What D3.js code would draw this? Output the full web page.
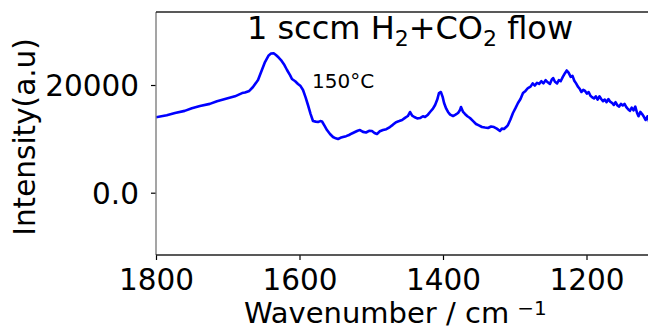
<!DOCTYPE html>
<html>
<head>
<meta charset="utf-8">
<script src="https://cdn.jsdelivr.net/npm/d3@7"></script>
<style>
  html, body { margin: 0; padding: 0; background: #fff; }
  svg { display: block; font-family: "DejaVu Sans", sans-serif; }
</style>
</head>
<body>
<svg id="chart" width="648" height="330"></svg>
<script>
// ---- data ----
const wavenumber = [
  1800, 1785, 1773.5, 1760, 1750, 1738.7, 1725, 1715, 1703.8, 1690, 1680, 1676, 1670, 1664.8,
  1657.8, 1648.1, 1643, 1639.7, 1636, 1632.8, 1629, 1625.8, 1621, 1617.4, 1613, 1610.5, 1606,
  1602.1, 1598.5, 1595.1, 1591.5, 1588.2, 1584.5, 1581.2, 1577.5, 1574.2, 1571, 1568.6, 1565,
  1561.7, 1557.5, 1553.3, 1549.5, 1546.3, 1543, 1539.4, 1535, 1531.0, 1527, 1522.7, 1519,
  1515.7, 1511.5, 1507.3, 1503,
  1499, 1495.5, 1492, 1488, 1483.6, 1479, 1474, 1470, 1465.5, 1461, 1457, 1453, 1449, 1446,
  1443, 1440, 1436, 1432, 1428, 1425, 1421, 1418, 1414, 1411, 1408, 1405.6, 1403, 1400.5,
  1398.5, 1395.5, 1393, 1390, 1386, 1382.5, 1379, 1376.5, 1374.9, 1372, 1369.4, 1366, 1362.4,
  1358, 1354, 1350, 1345.7, 1341.5, 1337.3, 1333, 1329, 1325, 1320.6, 1318, 1315, 1312,
  1309.5, 1306,
  1302.5, 1299, 1295.5, 1292, 1288.5, 1285, 1281.6, 1278, 1275, 1272, 1269, 1266, 1263, 1260,
  1257, 1254, 1251, 1248.5, 1246.5, 1244, 1241, 1238.5, 1236, 1233, 1230, 1227.5, 1225, 1222,
  1219.5, 1217, 1214.5, 1212, 1209.5, 1207, 1204.5, 1202, 1199.5, 1197, 1194.5, 1192, 1189.5,
  1187, 1184.5, 1182, 1179.5, 1177, 1174.5, 1172, 1169.5, 1167, 1164.5, 1162, 1159.5, 1157,
  1154.5, 1152, 1149.5, 1147, 1144.5, 1142, 1139.5, 1137, 1134.5, 1132, 1129.5, 1127.5, 1125,
  1122.5, 1120, 1117.5, 1115, 1112.5, 1110];
const intensity = [
  14000, 14400, 14800, 15200, 15700, 16100, 16500, 17000, 17400, 17900, 18500, 18600, 18900, 19630,
  20930, 24270, 25500, 25850, 25900, 25570, 25100, 24640, 23700, 22790, 21800, 21110, 20700,
  20190, 19800, 19070, 17700, 16290, 14600, 13320, 13200, 13130, 13300, 13220, 12400,
  11640, 10900, 10340, 10100, 9970, 10200, 10340, 10500, 10720, 11000, 11270, 11500,
  11640, 11300, 11180, 11500,
  11460, 11100, 10900, 11400, 11640, 11800, 12200, 12600, 13100, 13300, 13500, 13900, 14240, 14990,
  14300, 14060, 13800, 13870, 14200, 14060, 14500, 14990, 15600, 16290, 17300, 18510, 18700, 17800,
  16660, 15600, 14990, 14500, 14240, 14500, 14800, 15300, 15910, 15000, 14620, 14200, 13870,
  13300, 12760, 12500, 12200, 12100, 12020, 12300, 12200, 11900, 11460, 11900, 11830, 12200,
  12570, 13600,
  14800, 15700, 16660, 17400, 18510, 18900, 19440, 19700, 20300, 19900, 20400, 20200, 20700, 20300,
  20900, 20500, 20200, 21000, 21300, 20600, 20300, 20900, 20700, 21500, 22200, 22700, 22300, 21500,
  21700, 20800, 20300, 19700, 19300, 18700, 19100, 18900, 18400, 18700, 18000, 17700, 17500,
  17900, 17300, 17900, 17400, 17000, 17300, 16800, 17400, 16900, 16700, 16300, 16800, 16200,
  16000, 16500, 16200, 16500, 15900, 15500, 15200, 15800, 15300, 16000, 14800, 14200, 15000,
  14600, 14100, 13500, 14200, 13100, 12600];
const xTicks = [1800, 1600, 1400, 1200];
const yTicks = [0, 20000];
const yTickLabels = ["0.0", "20000"];

// ---- layout ----
const svg = d3.select("#chart");
const mLeft = 156, mTop = 12, mBottom = 255;
const x = d3.scaleLinear().domain([1800, 1100]).range([mLeft, 658.25]);
const y = d3.scaleLinear().domain([-11570, 33560]).range([mBottom, mTop]);

svg.append("clipPath").attr("id", "clip")
  .append("rect").attr("x", mLeft).attr("y", mTop).attr("width", 700).attr("height", mBottom - mTop);

// line
const line = d3.line().x((d, i) => x(wavenumber[i])).y(d => y(d));
svg.append("path")
  .datum(intensity)
  .attr("clip-path", "url(#clip)")
  .attr("d", line)
  .attr("fill", "none")
  .attr("stroke", "#0000ff")
  .attr("stroke-width", 2.6)
  .attr("stroke-linejoin", "round");

// axes
const xAxis = d3.axisBottom(x).tickValues(xTicks).tickSize(5).tickPadding(4).tickFormat(d3.format("d"));
const gx = svg.append("g").attr("transform", `translate(0,${mBottom})`).call(xAxis);
gx.select(".domain").remove();
gx.selectAll("line").attr("stroke", "#000").attr("stroke-width", 1.2);
gx.selectAll("text").attr("font-size", 29.5).attr("fill", "#000")
  .attr("font-family", "DejaVu Sans").attr("dy", null).attr("y", 35);

const yAxis = d3.axisLeft(y).tickValues(yTicks).tickSize(5).tickPadding(12)
  .tickFormat((d, i) => yTickLabels[i]);
const gy = svg.append("g").attr("transform", `translate(${mLeft},0)`).call(yAxis);
gy.select(".domain").remove();
gy.selectAll("line").attr("stroke", "#000").attr("stroke-width", 1.2);
gy.selectAll("text").attr("font-size", 29.5).attr("fill", "#000")
  .attr("font-family", "DejaVu Sans").attr("x", -17).attr("dy", "0.36em");

// spines
svg.append("line").attr("x1", mLeft).attr("x2", mLeft).attr("y1", mTop).attr("y2", mBottom)
  .attr("stroke", "#7f7f7f").attr("stroke-width", 1.4);
svg.append("line").attr("x1", mLeft).attr("x2", 648).attr("y1", mTop).attr("y2", mTop)
  .attr("stroke", "#222").attr("stroke-width", 1.4);
svg.append("line").attr("x1", mLeft).attr("x2", 648).attr("y1", mBottom).attr("y2", mBottom)
  .attr("stroke", "#222").attr("stroke-width", 1.4);

// title
const title = svg.append("text").attr("x", 410).attr("y", 39).attr("text-anchor", "middle")
  .attr("font-size", 32).attr("fill", "#000");
title.append("tspan").text("1 sccm H");
title.append("tspan").attr("font-size", 22).attr("dy", 7).text("2");
title.append("tspan").attr("dy", -7).text("+CO");
title.append("tspan").attr("font-size", 22).attr("dy", 7).text("2");
title.append("tspan").attr("dy", -7).text(" flow");

// annotation
svg.append("text").attr("x", 312).attr("y", 88).attr("font-size", 20).attr("fill", "#000").text("150°C");

// x label
const xl = svg.append("text").attr("x", 244).attr("y", 323).attr("font-size", 29).attr("fill", "#000");
xl.append("tspan").text("Wavenumber / cm");
xl.append("tspan").attr("font-size", 20).attr("dx", 8).attr("dy", -8).text("−1");

// y label
svg.append("text").attr("transform", "translate(35,137) rotate(-90)")
  .attr("text-anchor", "middle").attr("font-size", 29.5).attr("fill", "#000").text("Intensity(a.u)");
</script>
</body>
</html>
